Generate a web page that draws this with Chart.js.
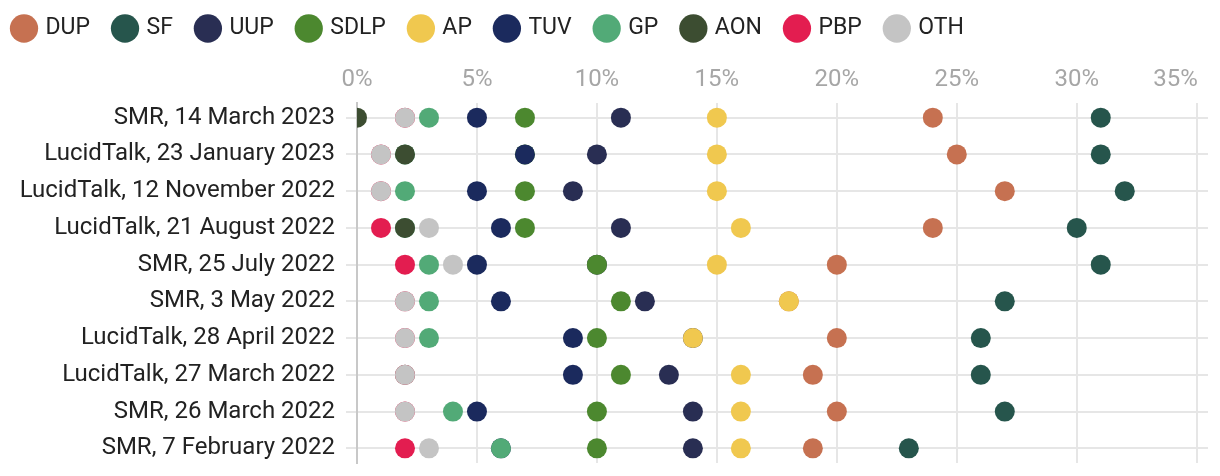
<!DOCTYPE html>
<html><head><meta charset="utf-8">
<script src="https://cdn.jsdelivr.net/npm/chart.js@4.4.1/dist/chart.umd.min.js"></script>
<style>html,body{margin:0;padding:0;background:#fff}#wrap{width:1220px;height:476px}</style>
</head><body><div id="wrap"><canvas id="c" width="1220" height="476"></canvas></div>
<script>
const categories = [
  "SMR, 14 March 2023",
  "LucidTalk, 23 January 2023",
  "LucidTalk, 12 November 2022",
  "LucidTalk, 21 August 2022",
  "SMR, 25 July 2022",
  "SMR, 3 May 2022",
  "LucidTalk, 28 April 2022",
  "LucidTalk, 27 March 2022",
  "SMR, 26 March 2022",
  "SMR, 7 February 2022"
];
const parties = ["DUP","SF","UUP","SDLP","AP","TUV","GP","AON","PBP","OTH"];
const colors = ["#C67151","#26554C","#292E53","#4C882F","#F0C84F","#1B2A5D","#52AA77","#3C4D31","#E31D50","#C4C4C4"];
const DUP  = [24,25,27,24,20,18,20,19,20,19];
const SF   = [31,31,32,30,31,27,26,26,27,23];
const UUP  = [11,10,9,11,10,12,14,13,14,14];
const SDLP = [7,7,7,7,10,11,10,11,10,10];
const AP   = [15,15,15,16,15,18,14,16,16,16];
const TUV  = [5,7,5,6,5,6,9,9,5,6];
const GP   = [3,2,2,2,3,3,3,2,4,6];
const AON  = [0,2,null,2,null,null,null,null,null,null];
const PBP  = [2,1,1,1,2,2,2,2,2,2];
const OTH  = [2,1,1,3,4,2,2,2,2,3];
const seriesValues = [DUP,SF,UUP,SDLP,AP,TUV,GP,AON,PBP,OTH];
const xTicks = [0,5,10,15,20,25,30,35];

Chart.defaults.font.family = "Roboto, 'Open Sans', sans-serif";

const datasets = parties.map((p,i)=>({
  label: p,
  data: seriesValues[i].map((v,j)=> v===null ? null : {x:v, y:j}).filter(d=>d),
  backgroundColor: colors[i],
  borderColor: colors[i],
  borderWidth: 0,
  pointRadius: 10,
  pointHoverRadius: 10,
  order: -i
}));

const lastTickRight = {
  id: 'lastTickRight',
  beforeDraw(chart) {
    const s = chart.scales.x;
    const items = s.getLabelItems();
    const last = items[items.length - 1];
    if (last) {
      last.options.textAlign = 'right';
      last.options.translation[0] = s.getPixelForValue(xTicks[xTicks.length - 1]) + 1;
    }
  }
};

new Chart(document.getElementById('c'), {
  type: 'scatter',
  data: { datasets },
  plugins: [lastTickRight],
  options: {
    responsive: false,
    animation: false,
    events: [],
    layout: { padding: { left: -11, top: -8, right: 12, bottom: 13 } },
    plugins: {
      legend: {
        position: 'top', align: 'start',
        labels: {
          usePointStyle: true, pointStyle: 'circle',
          boxWidth: 20, boxHeight: 20, padding: 25,
          color: '#222', font: { size: 23 },
          sort: (a,b) => a.datasetIndex - b.datasetIndex
        }
      },
      tooltip: { enabled: false }
    },
    scales: {
      x: {
        type: 'linear', position: 'top', min: 0, max: 35.47,
        afterBuildTicks: s => { s.ticks = xTicks.map(v => ({value: v})); },
        ticks: { callback: v => v + '%', color: '#a6a6a6', font: { size: 24 }, padding: 9, maxRotation: 0, autoSkip: false },
        grid: { color: '#e6e6e6', lineWidth: 2, drawTicks: false },
        border: { display: false },
        afterFit: s => { s.height = 53; s.paddingLeft = 0; s.paddingRight = 0; }
      },
      y: {
        type: 'linear', reverse: true, min: -0.4, max: 9.4,
        afterBuildTicks: s => { s.ticks = categories.map((c,i) => ({value: i})); },
        ticks: { callback: v => categories[v], color: '#222', font: { size: 24 }, padding: 11, autoSkip: false },
        grid: { color: '#e6e6e6', lineWidth: 2, tickLength: 11 },
        border: { display: true, color: '#c8c8c8', width: 2 },
        afterFit: s => { s.width = 368; s.paddingTop = 0; s.paddingBottom = 0; }
      }
    }
  }
});
</script>
</body></html>
